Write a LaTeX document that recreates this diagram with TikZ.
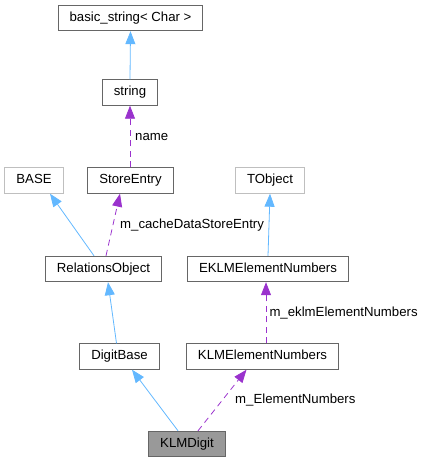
\documentclass[tikz,border=0pt]{standalone}
\usepackage{fontspec}
\setmainfont{Liberation Sans}
\usetikzlibrary{arrows.meta}
\usetikzlibrary{positioning}

\definecolor{inhblue}{HTML}{63B8FF}
\definecolor{usepurple}{HTML}{9A32CD}
\definecolor{boxgray}{HTML}{666666}
\definecolor{boxlight}{HTML}{BFBFBF}
\definecolor{boxfill}{HTML}{999999}

\begin{document}
\begin{tikzpicture}[x=1pt,y=-1pt,
    cls/.style={draw=boxgray,line width=0.9pt,rectangle,inner xsep=11.5pt,inner ysep=0pt,
      minimum height=25.5pt,text height=9.5pt,text depth=3.1pt,font=\fontsize{13.2}{15}\selectfont},
    ext/.style={cls,draw=boxlight},
    inh/.style={draw=inhblue,line width=0.8pt,-{Triangle[length=13pt,width=10pt]}},
    use/.style={draw=usepurple,line width=0.8pt,dash pattern=on 6pt off 4.5pt,
      -{Triangle[length=13pt,width=10pt,fill=usepurple]}},
    lbl/.style={font=\fontsize{13.2}{15}\selectfont,anchor=base west,inner sep=0pt}]
    \useasboundingbox (0,0) rectangle (424,463);
    \node[cls] (bstr) at (130.5,18) {basic\_string< Char >};
    \node[cls] (str) at (130,92.5) {string};
    \node[ext] (base) at (34,180.5) {BASE};
    \node[cls] (store) at (130.5,180.5) {StoreEntry};
    \node[ext] (tobj) at (270,180.5) {TObject};
    \node[cls] (rel) at (103.5,269) {RelationsObject};
    \node[cls] (eklm) at (268,269) {EKLMElementNumbers};
    \node[cls] (dbase) at (119.5,356.5) {DigitBase};
    \node[cls] (klmen) at (262.5,356.5) {KLMElementNumbers};
    \node[cls,fill=boxfill] (digit) at (187,444) {KLMDigit};
    % inheritance
    \draw[inh] (str.north) -- (bstr.south);
    \draw[inh] ([xshift=-9.5]rel.north) -- ([xshift=16]base.south);
    \draw[inh] (eklm.north) -- ([xshift=0]tobj.south);
    \draw[inh] ([xshift=-3]dbase.north) -- ([xshift=4.5]rel.south);
    \draw[inh] ([xshift=-9]digit.north) -- ([xshift=12.5]dbase.south);
    % members
    \draw[use] ([xshift=-0.5]store.north) -- (str.south);
    \draw[use] ([xshift=2.5]rel.north) -- ([xshift=-10.5]store.south);
    \draw[use] ([xshift=3.5]klmen.north) -- ([xshift=-2]eklm.south);
    \draw[use] ([xshift=11]digit.north) -- ([xshift=-16]klmen.south);
    \node[lbl] (lname) at (135,140) {name};
    \node[lbl] (lcache) at (120,228.5) {m\_cacheDataStoreEntry};
    \node[lbl] (leklm) at (269.3,316) {m\_eklmElementNumbers};
    \node[lbl] (lelem) at (235,403.5) {m\_ElementNumbers};
  \end{tikzpicture}
\end{document}
